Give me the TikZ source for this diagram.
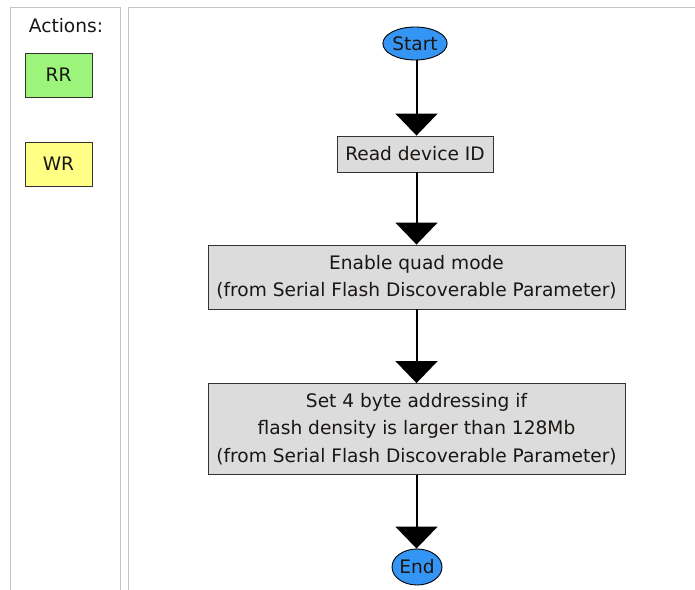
\documentclass[tikz,border=0pt]{standalone}
\usepackage{fontspec}
\setmainfont{DejaVu Sans}
\usetikzlibrary{arrows.meta,shapes.geometric}
\definecolor{panelline}{HTML}{C4C4C4}
\definecolor{stepfill}{HTML}{DCDCDC}
\definecolor{termfill}{HTML}{3595F5}
\definecolor{rrfill}{HTML}{9CF57A}
\definecolor{wrfill}{HTML}{FFFF85}
\definecolor{inktext}{HTML}{1A1614}
\tikzset{
  panel/.style={draw=panelline, line width=1pt},
  stepbox/.style={draw=black!80, fill=stepfill, line width=0.9pt, align=center,
    inner sep=0pt, font=\fontsize{18.6}{27.5}\selectfont, text=inktext},
  term/.style={ellipse, draw=black, fill=termfill, line width=0.9pt, inner sep=0pt,
    font=\fontsize{18.6}{21}\selectfont, text=inktext},
  action/.style={draw=black!80, line width=0.9pt, inner sep=0pt,
    minimum width=67pt, minimum height=44pt, font=\fontsize{18.6}{21}\selectfont, text=inktext},
  flow/.style={line width=2pt, -{Triangle[width=42pt,length=22pt]}},
}
\begin{document}
\begin{tikzpicture}[x=1pt,y=-1pt]
  \useasboundingbox (0,0) rectangle (695,589);
  \fill[white] (0,0) rectangle (695,589);
  % side panels
  \begin{scope}
    \clip (0,0) rectangle (695,589);
    \draw[panel] (10.5,7) rectangle (120.5,600);
    \draw[panel] (128,7) rectangle (710,600);
  \end{scope}
  % legend
  \node[font=\fontsize{18.6}{21}\selectfont, text=inktext] (acts) at (66,26) {Actions:};
  \node[action, fill=rrfill] (rr) at (58.5,75) {RR};
  \node[action, fill=wrfill] (wr) at (58.5,164) {WR};
  % flow
  \node[term, minimum width=55pt, minimum height=33pt] (start) at (415,43.5) {Start};
  \node[stepbox, minimum width=156pt, minimum height=36pt] (s1) at (415,154) {Read device ID};
  \node[stepbox, minimum width=417pt, minimum height=64pt] (s2) at (416.5,277)
    {Enable quad mode\\(from Serial Flash Discoverable Parameter)};
  \node[stepbox, minimum width=417pt, minimum height=91pt] (s3) at (416.5,429)
    {Set 4 byte addressing if\\flash density is larger than 128Mb\\(from Serial Flash Discoverable Parameter)};
  \node[term, minimum width=45pt, minimum height=36pt] (end) at (417,567) {End};
  \coordinate (axis) at (416.5,0);
  \draw[flow] (start.south -| axis) -- (s1.north -| axis);
  \draw[flow] (s1.south -| axis) -- (s2.north -| axis);
  \draw[flow] (s2.south -| axis) -- (s3.north -| axis);
  \draw[flow] (s3.south -| axis) -- (end.north -| axis);
\end{tikzpicture}
\end{document}
